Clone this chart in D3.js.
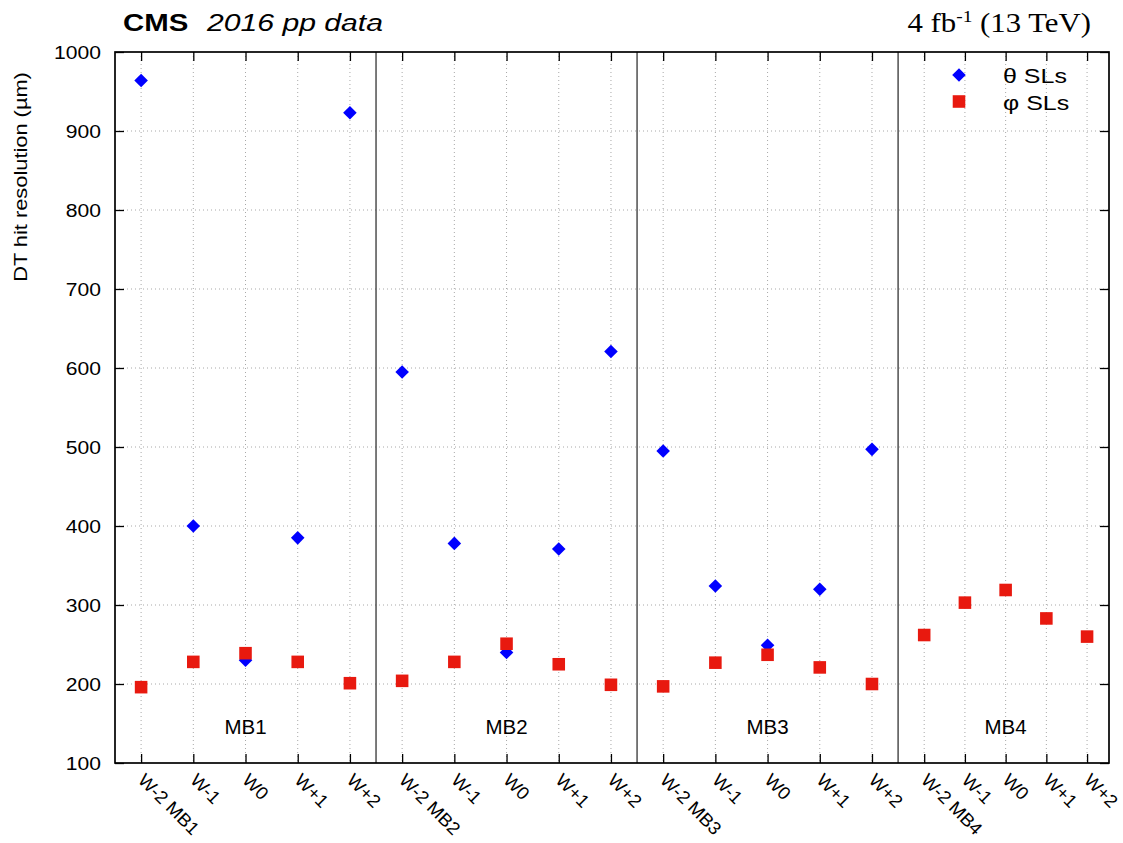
<!DOCTYPE html>
<html><head><meta charset="utf-8">
<script src="https://cdn.jsdelivr.net/npm/d3@7"></script>
<style>body{margin:0;background:#fff}svg text{font-family:"Liberation Sans",Arial,sans-serif;fill:#000}</style>
</head><body><svg id="c" width="1123" height="843"></svg>
<script>
const tickLabels = ["W-2 MB1","W-1","W0","W+1","W+2","W-2 MB2","W-1","W0","W+1","W+2","W-2 MB3","W-1","W0","W+1","W+2","W-2 MB4","W-1","W0","W+1","W+2"];
const xValues = [0,1,2,3,4,5,6,7,8,9,10,11,12,13,14,15,15.78,16.56,17.34,18.12];
const thetaSL = [964,400,230,385,923, 595,378,240,371,621, 495,324,249,320,497, null,null,null,null,null];
const phiSL = [196,228,239,228,201, 204,228,251,225,199, 197,227,237,221,200, 262,303,319,283,260];
const stations = ["MB1","MB2","MB3","MB4"];
const stationCenters = [2,7,12,16.56];
const separators = [4.5,9.5,14.5];
const yTicks = [100,200,300,400,500,600,700,800,900,1000];

const svg = d3.select("#c");
const L=115,R=1109,T=52,B=763;
const x = d3.scaleLinear().domain([-0.5,18.54]).range([L,R]);
const y = d3.scaleLinear().domain([100,1000]).range([B,T]);

// grid
const g = svg.append("g");
g.selectAll(".gx").data(xValues).join("line")
  .attr("x1",d=>x(d)).attr("x2",d=>x(d)).attr("y1",T).attr("y2",B)
  .attr("stroke","#a8a8a8").attr("stroke-width",1).attr("stroke-dasharray","1,3");
g.selectAll(".gy").data(yTicks.slice(1,-1)).join("line")
  .attr("x1",L).attr("x2",R).attr("y1",d=>y(d)).attr("y2",d=>y(d))
  .attr("stroke","#a8a8a8").attr("stroke-width",1).attr("stroke-dasharray","1,3");

// separators
svg.selectAll(".sep").data(separators).join("line")
  .attr("x1",d=>x(d)).attr("x2",d=>x(d)).attr("y1",T).attr("y2",B)
  .attr("stroke","#333").attr("stroke-width",1.3);

// axes with inward ticks
const tl=9;
function tickStyle(a){ a.select(".domain").remove(); a.selectAll("line").attr("stroke","#000").attr("stroke-width",1.3); }
svg.append("g").attr("transform",`translate(0,${B})`)
  .call(d3.axisBottom(x).tickValues(xValues).tickSize(-tl).tickFormat("")).call(tickStyle);
svg.append("g").attr("transform",`translate(0,${T})`)
  .call(d3.axisTop(x).tickValues(xValues).tickSize(-tl).tickFormat("")).call(tickStyle);
svg.append("g").attr("transform",`translate(${L},0)`)
  .call(d3.axisLeft(y).tickValues(yTicks).tickSize(-tl).tickFormat("")).call(tickStyle);
svg.append("g").attr("transform",`translate(${R},0)`)
  .call(d3.axisRight(y).tickValues(yTicks).tickSize(-tl).tickFormat("")).call(tickStyle);

// y tick labels (stretched text)
svg.selectAll(".yl").data(yTicks).join("text")
  .attr("transform",d=>`translate(101,${y(d)+6.5}) scale(1.14,1)`)
  .attr("text-anchor","end").attr("font-size",18.5).text(d=>d);

// frame
svg.append("rect").attr("x",L).attr("y",T).attr("width",R-L).attr("height",B-T)
  .attr("fill","none").attr("stroke","#000").attr("stroke-width",1.7);

// x labels rotated
svg.selectAll(".xl").data(tickLabels).join("text")
  .attr("transform",(d,i)=>`translate(${x(xValues[i])+5},${B+9}) rotate(45) scale(1.04,1)`)
  .attr("font-size",18).attr("dy","0.72em").attr("text-anchor","start").text(d=>d);

// station labels
svg.selectAll(".st").data(stations).join("text")
  .attr("x",(d,i)=>x(stationCenters[i])).attr("y",734)
  .attr("text-anchor","middle").attr("font-size",20.5).text(d=>d);

// points
const diamond = d3.symbol().type(d3.symbolSquare).size(92);
const thetaData = xValues.map((xv,i)=>({x:xv,v:thetaSL[i]})).filter(d=>d.v!==null);
svg.selectAll(".th").data(thetaData).join("path")
  .attr("d",diamond).attr("fill","#0000ff")
  .attr("transform",d=>`translate(${x(d.x)},${y(d.v)}) rotate(45)`);
const sq = d3.symbol().type(d3.symbolSquare).size(158);
const phiData = xValues.map((xv,i)=>({x:xv,v:phiSL[i]}));
svg.selectAll(".ph").data(phiData).join("path")
  .attr("d",sq).attr("fill","#e8190f")
  .attr("transform",d=>`translate(${x(d.x)},${y(d.v)})`);

// legend
svg.append("path").attr("d",diamond).attr("fill","#0000ff").attr("transform","translate(959,75) rotate(45)");
svg.append("path").attr("d",sq).attr("fill","#e8190f").attr("transform","translate(959,101.5)");
svg.append("text").attr("transform","translate(1003,83) scale(1.22,1)").attr("font-size",20.5).text("θ SLs");
svg.append("text").attr("transform","translate(1003,110) scale(1.22,1)").attr("font-size",20.5).text("φ SLs");

// y label
svg.append("text").attr("transform","translate(27,177) rotate(-90) scale(1.18,1)")
  .attr("text-anchor","middle").attr("font-size",18.5).text("DT hit resolution (µm)");

// titles
svg.append("text").attr("transform","translate(123,31) scale(1.2,1)").attr("font-size",24.5).attr("font-weight","bold").text("CMS");
svg.append("text").attr("transform","translate(207,31) scale(1.23,1)").attr("font-size",24.5).attr("font-style","italic").text("2016 pp data");
const rt = svg.append("text").attr("transform","translate(1091,32) scale(1.14,1)").attr("text-anchor","end")
  .attr("font-size",27).style("font-family","Liberation Serif, Times New Roman, serif");
rt.append("tspan").text("4 fb");
rt.append("tspan").attr("dy",-10).attr("font-size",17).text("-1");
rt.append("tspan").attr("dy",10).text(" (13 TeV)");
</script></body></html>
